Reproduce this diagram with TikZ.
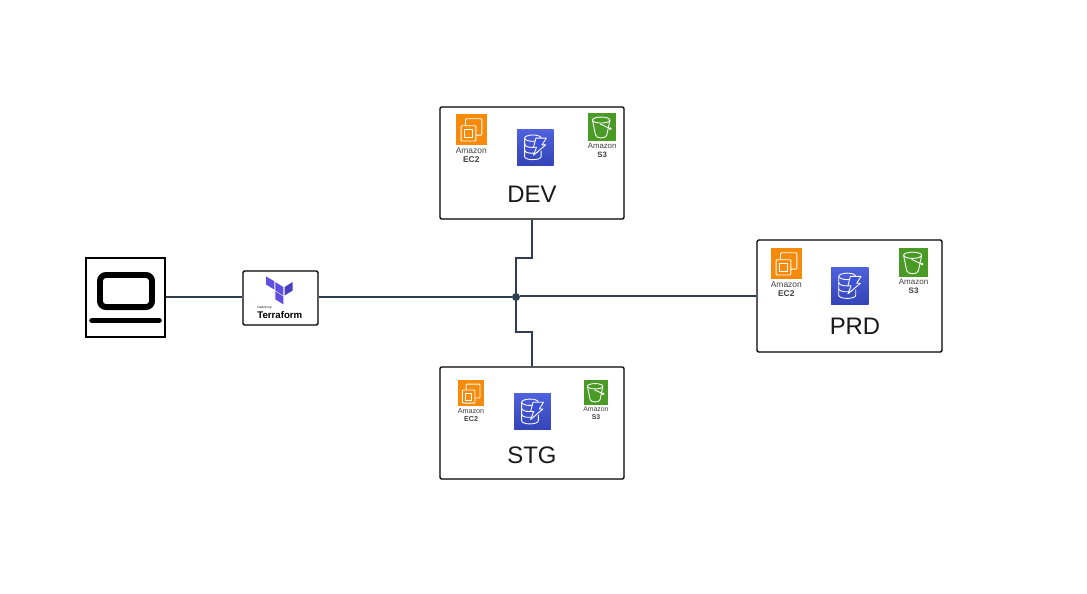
\documentclass[tikz,border=0pt]{standalone}
\usepackage{fontspec}
\setmainfont{Liberation Sans}
\definecolor{wirecol}{HTML}{2F3E4E}
\definecolor{ecorange}{HTML}{F58A0B}
\definecolor{sgreen}{HTML}{4A9A26}
\definecolor{dynblue}{HTML}{3C50D8}
\definecolor{tfpurple}{HTML}{5F4FE0}
\definecolor{tfdark}{HTML}{4A3FC0}
\tikzset{
  envbox/.style={draw=black,line width=0.75pt,rounded corners=0.8pt,fill=white,
    minimum width=184*\px,minimum height=112*\px,inner sep=0pt},
  envname/.style={font=\fontsize{13.6}{16}\selectfont,text=black!90,inner sep=0pt},
  wire/.style={draw=wirecol,line width=0.7pt},
  iconline/.style={draw=white,line width=0.5pt,line join=round},
  iconlabel/.style={font=\fontsize{4.7}{5}\selectfont,text=black!75,inner sep=0pt,transform shape},
  pics/ectwo/.style={code={
    \fill[ecorange] (0,0) rectangle (30,30);
    \draw[iconline,rounded corners=0.5pt] (9.3,11) -- (9.3,4.7) -- (25.3,4.7) -- (25.3,20.7) -- (19.5,20.7);
    \draw[iconline,rounded corners=0.5pt] (5,11.5) rectangle (19.5,26.5);
    \draw[iconline] (8.5,15) rectangle (16,23);
    \node[iconlabel] (-top) at (15,35.5) {Amazon};
    \node[iconlabel] (-low) at (15,45) {\textbf{EC2}};
  }},
  pics/sthree/.style={code={
    \fill[sgreen] (0,0) rectangle (30,30);
    \draw[iconline] (14,7.5) ellipse (9.3 and 3.2);
    \draw[iconline] (4.7,7.5) -- (8,23.5) .. controls (9,27.5) and (19,27.5) .. (20,23.5) -- (23.3,7.5);
    \draw[iconline] (13,11.7) -- (22.7,16.2);
    \draw[iconline] (23.7,16.6) circle (1);
    \node[iconlabel] (-top) at (15,35) {Amazon};
    \node[iconlabel] (-low) at (15,44.5) {\textbf{S3}};
  }},
  pics/dynamo/.style={code={
    \shade[bottom color=dynblue!85!black,top color=dynblue!90!white] (0,0) rectangle (30,30);
    \draw[iconline] (13,7.5) ellipse (6.8 and 2.6);
    \draw[iconline] (6.2,7.5) -- (6.2,22.5) .. controls (6.2,26) and (19.8,26) .. (19.8,22.5) -- (19.8,18);
    \draw[iconline] (6.2,12.5) .. controls (6.7,15) and (12,15.5) .. (15,14.8);
    \draw[iconline] (6.2,17.5) .. controls (6.7,20) and (13,20.5) .. (17,19);
    \draw[iconline,fill=dynblue] (15.5,7.5) -- (24,7.5) -- (20.5,13) -- (23.5,13) -- (13.5,21.5) -- (16,15) -- (13.5,15) -- cycle;
  }},
}
\def\px{0.02cm}
\begin{document}
\begin{tikzpicture}[x=0.02cm,y=-0.02cm]
  \useasboundingbox (0,0) rectangle (1087,593);
  % boxes
  \node[envbox,rounded corners=0pt,line width=0.65pt,minimum width=79*\px,minimum height=79*\px] (laptop) at (125.5,297.5) {};
  \node[envbox,minimum width=75*\px,minimum height=54*\px] (tf) at (280.5,298) {};
  \node[envbox] (dev) at (532,163) {};
  \node[envbox] (stg) at (532,423) {};
  \node[envbox,minimum width=185*\px] (prd) at (849.5,296) {};
  \node[circle,fill=wirecol,minimum size=8*\px,inner sep=0pt] (hub) at (516,297) {};
  \coordinate (devbend) at (532,258);
  \coordinate (stgbend) at (532,332);
  % wires
  \draw[wire] (laptop.east |- hub) -- (tf.west |- hub);
  \draw[wire] (tf.east |- hub) -- (hub);
  \draw[wire] (prd.west) -- (hub.east |- prd.west);
  \draw[wire] (dev.south) -- (devbend) -| (hub);
  \draw[wire] (stg.north) -- (stgbend) -| (hub);
  % laptop
  \draw[line width=3.4pt,rounded corners=3.4pt] (100,275) rectangle (152,307);
  \draw[line width=3.2pt,line cap=round] (92,320.5) -- (159,320.5);
  % terraform
  \fill[tfpurple] (266,276.3) -- (274.3,281.3) -- (274.3,289.5) -- (266,284.5) -- cycle;
  \fill[tfpurple] (275.3,282) -- (283.3,287) -- (283.3,295.5) -- (275.3,290.5) -- cycle;
  \fill[tfpurple] (275.3,291.3) -- (283.3,296.3) -- (283.3,304.3) -- (275.3,299.3) -- cycle;
  \fill[tfdark] (284.5,287) -- (292.7,282) -- (292.7,290.5) -- (284.5,295.5) -- cycle;
  \node[font=\fontsize{1.7}{2}\selectfont,inner sep=0pt,anchor=west] (tfsmall) at (257,308) {HashiCorp};
  \node[font=\fontsize{5.5}{7}\bfseries\selectfont,inner sep=0pt,anchor=west] (tfname) at (257,315.5) {Terraform};
  % DEV
  \pic[scale=1.02] (devec) at (456,114) {ectwo};
  \pic[scale=1.22] (devdb) at (517,129) {dynamo};
  \pic[scale=0.94] (devs) at (588,113) {sthree};
  \node[envname] (devname) at (532,194.5) {DEV};
  % PRD
  \pic[scale=1.02] (prdec) at (771,248) {ectwo};
  \pic[scale=1.25] (prddb) at (831,267) {dynamo};
  \pic[scale=0.97] (prds) at (899,248) {sthree};
  \node[envname] (prdname) at (855,326) {PRD};
  % STG
  \pic[scale=0.87] (stgec) at (458,380) {ectwo};
  \pic[scale=1.23] (stgdb) at (514,393) {dynamo};
  \pic[scale=0.83] (stgs) at (583.5,380) {sthree};
  \node[envname] (stgname) at (532,455.5) {STG};
\end{tikzpicture}
\end{document}
